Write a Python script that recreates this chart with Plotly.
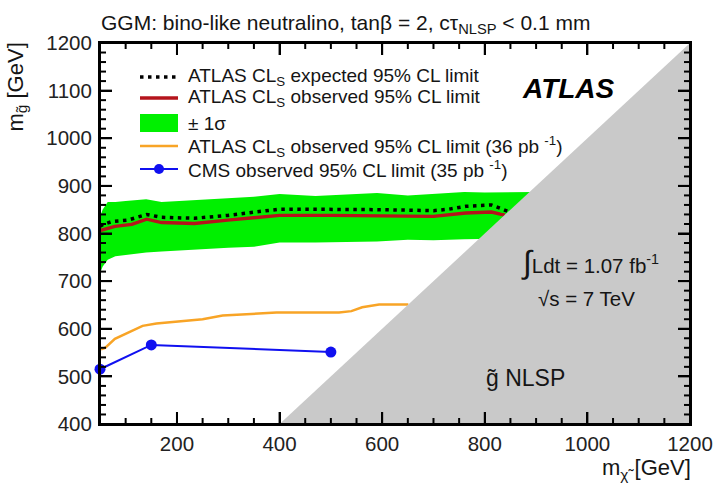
import plotly.graph_objects as go

# ---------------- data ----------------
# +-1 sigma band around expected limit
band_x = [50, 55, 65, 80, 100, 140, 170, 230, 300, 350, 400, 470, 550, 590, 650, 700, 760, 800, 860, 895]
band_hi = [835, 850, 866, 866, 868, 872, 866, 870, 875, 877, 883, 879, 883, 885, 880, 883, 887, 886, 887, 887]
band_lo = [716, 730, 745, 752, 755, 760, 762, 766, 770, 772, 781, 781, 782, 783, 787, 786, 788, 789, 790, 790]

# ATLAS CLs expected limit
exp_x = [50, 56, 73, 104, 141, 170, 234, 299, 351, 400, 450, 500, 550, 600, 650, 700, 730, 763, 813, 832, 846]
exp_y = [815, 819, 825, 828, 840, 834, 832, 838, 845, 851, 851, 851, 851, 850, 849, 848, 851, 857, 860, 853, 846]

# ATLAS CLs observed limit
obs_x = [50, 79, 112, 141, 170, 234, 299, 351, 400, 500, 600, 700, 763, 794, 813, 832, 839]
obs_y = [806, 815, 819, 830, 823, 821, 828, 834, 838, 838, 837, 836, 843, 845, 845, 840, 839]

# ATLAS CLs observed limit (36 pb-1)
old_x = [52, 60, 79, 100, 133, 160, 200, 250, 289, 350, 394, 450, 516, 540, 561, 594, 620, 651]
old_y = [557, 560, 579, 590, 606, 611, 615, 620, 628, 631, 634, 634, 634, 637, 645, 651, 651, 651]

# CMS observed limit (35 pb-1)
cms_x = [50, 150, 500]
cms_y = [515, 566, 551]

# kinematically forbidden region (gluino NLSP)
kin_x = [400, 1200, 1200, 400]
kin_y = [400, 400, 1200, 400]

x_ticks = [200, 400, 600, 800, 1000, 1200]
y_ticks = [400, 500, 600, 700, 800, 900, 1000, 1100, 1200]
x_range = [50, 1200]
y_range = [400, 1200]

# ---------------- layout helpers ----------------
W, H = 713, 486
L, R, T, B = 100, 23, 43, 62
PW, PH = W - L - R, H - T - B


def px(x):
    return (x - L) / PW


def py(y):
    return (H - B - y) / PH


FONT = "Liberation Sans, Arial, Helvetica, sans-serif"
GREEN = "#00f000"
RED = "#b5141c"
ORANGE = "#f8a426"
BLUE = "#1010f0"
GREY = "#c9c9c9"
TXT = "#151515"

fig = go.Figure()

fig.add_trace(go.Scatter(x=band_x, y=band_lo, mode="lines", line=dict(width=0),
                         showlegend=False, hoverinfo="skip"))
fig.add_trace(go.Scatter(x=band_x, y=band_hi, mode="lines", line=dict(width=0),
                         fill="tonexty", fillcolor=GREEN, showlegend=False, hoverinfo="skip"))
fig.add_trace(go.Scatter(x=old_x, y=old_y, mode="lines", line=dict(color=ORANGE, width=2.5),
                         showlegend=False))
fig.add_trace(go.Scatter(x=cms_x, y=cms_y, mode="lines+markers", line=dict(color=BLUE, width=2),
                         marker=dict(color=BLUE, size=11), cliponaxis=False, showlegend=False))
fig.add_trace(go.Scatter(x=obs_x, y=obs_y, mode="lines", line=dict(color=RED, width=3.4),
                         showlegend=False))
fig.add_trace(go.Scatter(x=exp_x, y=exp_y, mode="lines",
                         line=dict(color="black", width=3.5, dash="3.5px,4.5px"), showlegend=False))
fig.add_trace(go.Scatter(x=kin_x, y=kin_y, mode="lines", line=dict(width=0),
                         fill="toself", fillcolor=GREY, showlegend=False, hoverinfo="skip"))

shapes = []
annotations = []

# ---------------- frame and ROOT-style ticks (drawn above the traces) ----------------
MAJ, MIN = 12, 6
tick_line = dict(color="black", width=2)
shapes.append(dict(type="rect", xref="paper", yref="paper", x0=0, x1=1, y0=0, y1=1,
                   line=dict(color="black", width=2), layer="above"))
x_minor = [v for v in range(50, 1201, 50) if v not in x_ticks]
y_minor = [v for v in range(400, 1201, 20) if v not in y_ticks]
for vals, ln in ((x_ticks, MAJ), (x_minor, MIN)):
    for v in vals:
        if x_range[0] < v < x_range[1]:
            shapes.append(dict(type="line", xref="x", yref="paper", x0=v, x1=v, y0=0, y1=ln / PH,
                               line=tick_line, layer="above"))
            shapes.append(dict(type="line", xref="x", yref="paper", x0=v, x1=v, y0=1, y1=1 - ln / PH,
                               line=tick_line, layer="above"))
for vals, ln in ((y_ticks, MAJ), (y_minor, MIN)):
    for v in vals:
        if y_range[0] < v < y_range[1]:
            shapes.append(dict(type="line", xref="paper", yref="y", x0=0, x1=ln / PW, y0=v, y1=v,
                               line=tick_line, layer="above"))
            shapes.append(dict(type="line", xref="paper", yref="y", x0=1, x1=1 - ln / PW, y0=v, y1=v,
                               line=tick_line, layer="above"))

# ---------------- manual legend ----------------
rows = [77, 98, 123, 146, 169]
sx0, sx1, tx = 140, 178, 186
labels = [
    "ATLAS CL<sub>S</sub> expected 95% CL limit",
    "ATLAS CL<sub>S</sub> observed 95% CL limit",
    "\u00b1 1\u03c3",
    "ATLAS CL<sub>S</sub> observed 95% CL limit (36 pb <sup>-1</sup>)",
    "CMS observed 95% CL limit (35 pb <sup>-1</sup>)",
]
shapes.append(dict(type="line", xref="paper", yref="paper", x0=px(sx0), x1=px(sx1),
                   y0=py(rows[0]), y1=py(rows[0]),
                   line=dict(color="black", width=3.5, dash="3.5px,4.5px")))
shapes.append(dict(type="line", xref="paper", yref="paper", x0=px(sx0), x1=px(sx1),
                   y0=py(rows[1]), y1=py(rows[1]), line=dict(color=RED, width=3.4)))
shapes.append(dict(type="rect", xref="paper", yref="paper", x0=px(sx0), x1=px(sx1),
                   y0=py(rows[2] + 9), y1=py(rows[2] - 9), fillcolor=GREEN, line=dict(width=0)))
shapes.append(dict(type="line", xref="paper", yref="paper", x0=px(sx0), x1=px(sx1),
                   y0=py(rows[3]), y1=py(rows[3]), line=dict(color=ORANGE, width=2.5)))
shapes.append(dict(type="line", xref="paper", yref="paper", x0=px(sx0), x1=px(sx1),
                   y0=py(rows[4]), y1=py(rows[4]), line=dict(color=BLUE, width=2)))
shapes.append(dict(type="circle", xref="paper", yref="paper", x0=px(159 - 5), x1=px(159 + 5),
                   y0=py(rows[4] + 5), y1=py(rows[4] - 5), fillcolor=BLUE, line=dict(width=0)))
for r, lab in zip(rows, labels):
    annotations.append(dict(x=px(tx), y=py(r), xref="paper", yref="paper", text=lab,
                            showarrow=False, xanchor="left", yanchor="middle",
                            font=dict(family=FONT, size=19, color=TXT)))

# title
annotations.append(dict(x=px(99), y=py(24), xref="paper", yref="paper",
                        text="GGM: bino-like neutralino, tan\u03b2 = 2, c\u03c4<sub>NLSP</sub> &lt; 0.1 mm",
                        showarrow=False, xanchor="left", yanchor="middle",
                        font=dict(family=FONT, size=21, color=TXT)))
# axis titles
annotations.append(dict(x=px(16), y=py(41), xref="paper", yref="paper",
                        text="m<sub>g\u0303</sub> [GeV]", textangle=-90,
                        showarrow=False, xanchor="center", yanchor="top",
                        font=dict(family=FONT, size=22, color=TXT)))
annotations.append(dict(x=px(693), y=py(469), xref="paper", yref="paper",
                        text="m<sub>\u03c7\u0303</sub> [GeV]",
                        showarrow=False, xanchor="right", yanchor="middle",
                        font=dict(family=FONT, size=22, color=TXT)))
# ATLAS label
annotations.append(dict(x=px(568), y=py(88), xref="paper", yref="paper",
                        text="<b><i>ATLAS</i></b>", showarrow=False,
                        xanchor="center", yanchor="middle",
                        font=dict(family=FONT, size=28, color="black")))
annotations.append(dict(x=px(519), y=py(262), xref="paper", yref="paper",
                        text="<span style='font-size:32px'>\u222b</span>Ldt = 1.07 fb<sup>-1</sup>",
                        showarrow=False, xanchor="left", yanchor="middle",
                        font=dict(family=FONT, size=20.5, color=TXT)))
annotations.append(dict(x=px(536), y=py(298), xref="paper", yref="paper",
                        text="\u221as = 7 TeV", showarrow=False,
                        xanchor="left", yanchor="middle",
                        font=dict(family=FONT, size=20.5, color=TXT)))
annotations.append(dict(x=px(484), y=py(378), xref="paper", yref="paper",
                        text="g\u0303 NLSP", showarrow=False,
                        xanchor="left", yanchor="middle",
                        font=dict(family=FONT, size=23, color=TXT)))

axis_common = dict(showgrid=False, zeroline=False, showline=True, linecolor="black", linewidth=2,
                   mirror="allticks", ticks="inside", ticklen=MAJ, tickwidth=2, tickcolor="black",
                   automargin=False,
                   tickfont=dict(family=FONT, size=20.5, color="#222"))

fig.update_layout(
    template="none",
    width=W, height=H,
    margin=dict(l=L, r=R, t=T, b=B, autoexpand=False),
    paper_bgcolor="white", plot_bgcolor="white",
    showlegend=False,
    shapes=shapes, annotations=annotations,
    xaxis=dict(range=x_range, tickmode="array", tickvals=x_ticks,
               ticktext=[str(v) for v in x_ticks], ticklabelstandoff=0, ticklabeloverflow="allow",
               **axis_common),
    yaxis=dict(range=y_range, tickmode="array", tickvals=y_ticks,
               ticktext=[str(v) for v in y_ticks], ticklabelstandoff=2,
               **axis_common),
)

fig.write_html("out.html")
